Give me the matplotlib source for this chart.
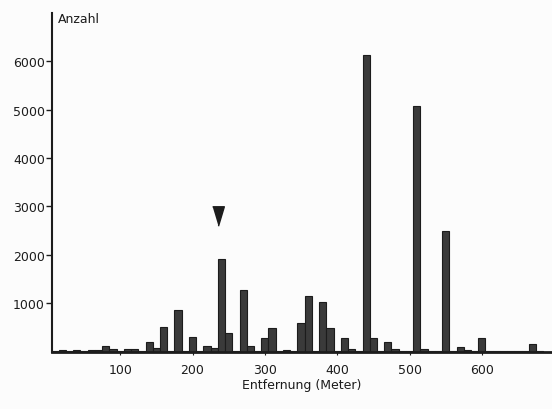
import matplotlib
matplotlib.use("Agg")
import matplotlib.pyplot as plt
import numpy as np

# histogram of distances, 10 m bins (bin centres)
bin_centres = np.arange(10, 690, 10)
counts = [
    20, 30, 20, 30, 20, 40, 40, 115, 50, 20,      # 10 .. 100
    60, 60, 20, 200, 80, 500, 20, 860, 20, 310,   # 110 .. 200
    20, 115, 75, 1915, 380, 20, 1270, 115, 20, 280,  # 210 .. 300
    490, 10, 40, 10, 590, 1150, 10, 1025, 490, 10,   # 310 .. 400
    280, 60, 10, 6130, 280, 10, 200, 60, 10, 10,     # 410 .. 500
    5080, 60, 10, 10, 2495, 10, 95, 25, 10, 280,     # 510 .. 600
    10, 10, 10, 10, 10, 10, 155, 10,                 # 610 .. 680
]
marker_x = [235]
marker_y = [2800]

y_ticks = [1000, 2000, 3000, 4000, 5000, 6000]
x_ticks = [100, 200, 300, 400, 500, 600]

ink = "#1c1c1c"
plt.rcParams['font.family'] = ['DejaVu Sans']

fig = plt.figure(figsize=(5.52, 4.10), dpi=100, facecolor="#fcfcfc")
ax = fig.add_axes([0.094, 0.140, 0.906, 0.826])
ax.set_facecolor("#fcfcfc")

ax.bar(bin_centres, counts, width=10, color="#3a3a3a", edgecolor=ink, linewidth=0.8)

# arrow over the 240 m peak
ax.plot(marker_x, marker_y, linestyle="none", color=ink,
        marker=[(-0.6, 1), (0.6, 1), (0, -1)], markersize=14)

ax.set_xlim(5.5, 697)
ax.set_ylim(0, 7000)

for side in ("top", "right"):
    ax.spines[side].set_visible(False)
ax.spines["left"].set_linewidth(1.5)
ax.spines["bottom"].set_linewidth(2.0)
ax.spines["left"].set_color(ink)
ax.spines["bottom"].set_color(ink)

ax.set_yticks(y_ticks)
ax.set_yticklabels([str(v) for v in y_ticks])
ax.set_xticks(x_ticks)
ax.set_xticklabels([str(v) for v in x_ticks])
ax.tick_params(axis="y", length=4, width=1.0, pad=1, labelsize=9, colors=ink)
ax.tick_params(axis="x", length=2, width=0.8, pad=6, labelsize=9, colors=ink)

ax.text(0.012, 0.985, "Anzahl", transform=ax.transAxes, ha="left", va="center",
        fontsize=9, color=ink)
ax.set_xlabel("Entfernung (Meter)", fontsize=9, color=ink, labelpad=2)

fig.savefig("out.png", dpi=100, facecolor=fig.get_facecolor())
